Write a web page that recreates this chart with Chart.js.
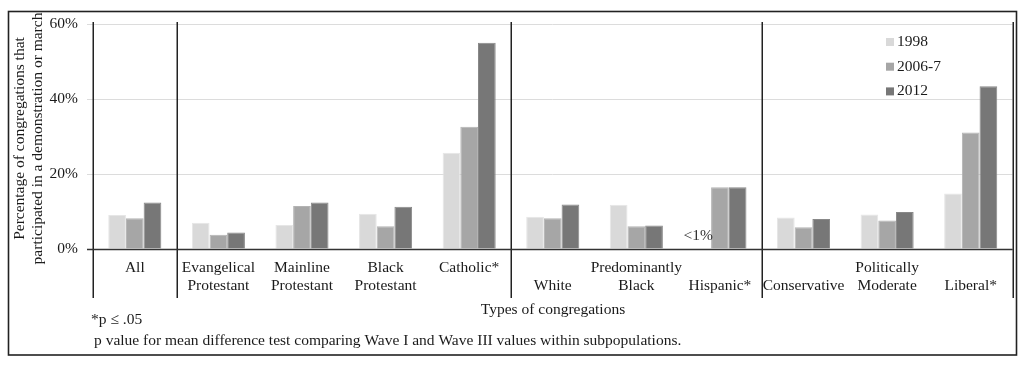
<!DOCTYPE html>
<html>
<head>
<meta charset="utf-8">
<script src="https://cdn.jsdelivr.net/npm/chart.js@4/dist/chart.umd.min.js"></script>
<style>
  html, body { margin: 0; padding: 0; background: #ffffff; }
  #wrap { width: 1024px; height: 365px; position: relative; }
  canvas { display: block; }
</style>
</head>
<body>
<div id="wrap"><canvas id="c" width="1024" height="365"></canvas></div>
<script>
// ---- data ----
const categories = [
  ["All"],
  ["Evangelical", "Protestant"],
  ["Mainline", "Protestant"],
  ["Black", "Protestant"],
  ["Catholic*"],
  ["", "White"],
  ["Predominantly", "Black"],
  ["", "Hispanic*"],
  ["", "Conservative"],
  ["Politically", "Moderate"],
  ["", "Liberal*"]
];
const seriesNames = ["1998", "2006-7", "2012"];
const values1998 = [9.1, 7.0, 6.4, 9.4, 25.7, 8.6, 11.8, 0, 8.4, 9.2, 14.8];
const values2006 = [8.2, 3.8, 11.5, 6.1, 32.6, 8.2, 6.1, 16.5, 5.8, 7.6, 31.1];
const values2012 = [12.4, 4.4, 12.4, 11.3, 55.0, 11.9, 6.3, 16.5, 8.0, 9.9, 43.4];
const yTicks = [0, 20, 40, 60];
const groupBreaks = [1, 5, 8];           // category index where a new group starts
const smallValueNote = { category: 7, series: 0, text: "<1%" };
const yTitle = ["Percentage of congregations that", "participated in a demonstration or march"];
const xTitle = "Types of congregations";
const footnotes = ["*p \u2264 .05", "p value for mean difference test comparing Wave I and Wave III values within subpopulations."];

// ---- style ----
const FONT = "'Liberation Serif', 'Times New Roman', serif";
const FS = 15.5;
const TXT = "#1a1a1a";
const fills = ["#d9d9d9", "#a6a6a6", "#777777"];
const edges = ["#e6e6e6", "#b3b3b3", "#888888"];

const extras = {
  id: "extras",
  afterDraw(chart) {
    const ctx = chart.ctx;
    const ca = chart.chartArea;
    const xs = chart.scales.x;
    ctx.save();

    // vertical group separators + left/right axis lines
    ctx.strokeStyle = "#222";
    ctx.lineWidth = 1.5;
    const xsList = [ca.left, ca.right];
    groupBreaks.forEach(i => {
      xsList.push((xs.getPixelForValue(i - 1) + xs.getPixelForValue(i)) / 2);
    });
    xsList.forEach(x => {
      ctx.beginPath();
      ctx.moveTo(Math.round(x) + 0.25, ca.top - 2);
      ctx.lineTo(Math.round(x) + 0.25, 298);
      ctx.stroke();
    });

    // zero axis line
    ctx.strokeStyle = "#333";
    ctx.lineWidth = 1.3;
    ctx.beginPath();
    ctx.moveTo(ca.left - 6, ca.bottom + 0.5);
    ctx.lineTo(ca.right, ca.bottom + 0.5);
    ctx.stroke();

    // outer frame
    ctx.strokeStyle = "#222";
    ctx.lineWidth = 1.6;
    ctx.strokeRect(8.5, 11.5, 1008, 343.5);

    ctx.fillStyle = TXT;
    ctx.font = FS + "px " + FONT;

    // y title (rotated, two lines)
    ctx.save();
    const cy = (ca.top + ca.bottom) / 2 + 2;
    ctx.translate(20, cy);
    ctx.rotate(-Math.PI / 2);
    ctx.textAlign = "center";
    ctx.textBaseline = "middle";
    ctx.fillText(yTitle[0], 0, 0);
    ctx.fillText(yTitle[1], 0, 18);
    ctx.restore();

    // x title
    ctx.textAlign = "center";
    ctx.textBaseline = "middle";
    ctx.fillText(xTitle, 553, 310);

    // footnotes
    ctx.textAlign = "left";
    ctx.fillText(footnotes[0], 91, 320);
    ctx.fillText(footnotes[1], 94, 341);

    // small-value note
    const meta = chart.getDatasetMeta(smallValueNote.series);
    const el = meta.data[smallValueNote.category];
    ctx.fillStyle = "#333";
    ctx.textAlign = "center";
    ctx.fillText(smallValueNote.text, el.x - 4, ca.bottom - 13);

    // legend
    ctx.textBaseline = "middle";
    ctx.textAlign = "left";
    seriesNames.forEach((name, i) => {
      const y = 42 + i * 24.7;
      ctx.fillStyle = fills[i];
      ctx.fillRect(886, y - 4, 8, 8);
      ctx.fillStyle = TXT;
      ctx.fillText(name, 897, y);
    });

    ctx.restore();
  }
};

new Chart(document.getElementById("c"), {
  type: "bar",
  data: {
    labels: categories,
    datasets: [values1998, values2006, values2012].map((vals, i) => ({
      label: seriesNames[i],
      data: vals,
      backgroundColor: fills[i],
      borderColor: edges[i],
      borderWidth: 1,
      categoryPercentage: 0.635,
      barPercentage: 1.0
    }))
  },
  options: {
    responsive: false,
    animation: false,
    devicePixelRatio: 1,
    layout: { padding: { left: 0, right: 11.5, top: 24, bottom: 0 } },
    plugins: { legend: { display: false }, tooltip: { enabled: false } },
    scales: {
      x: {
        grid: { display: false, drawTicks: false },
        border: { display: false },
        ticks: {
          color: TXT,
          font: { family: FONT, size: FS, lineHeight: 1.16 },
          maxRotation: 0, minRotation: 0, autoSkip: false,
          padding: 10
        },
        afterFit(s) { s.height = 116; }
      },
      y: {
        min: 0, max: 60,
        afterBuildTicks(s) { s.ticks = yTicks.map(v => ({ value: v })); },
        ticks: {
          color: TXT,
          font: { family: FONT, size: FS },
          padding: 9,
          callback: v => v + "%"
        },
        grid: {
          color: ctx => (ctx.tick && ctx.tick.value === 0 ? "#333" : "#dcdcdc"),
          lineWidth: 1,
          tickLength: 6,
          drawTicks: true
        },
        border: { display: false },
        afterFit(s) { s.width = 93; }
      }
    }
  },
  plugins: [extras]
});
</script>
</body>
</html>
